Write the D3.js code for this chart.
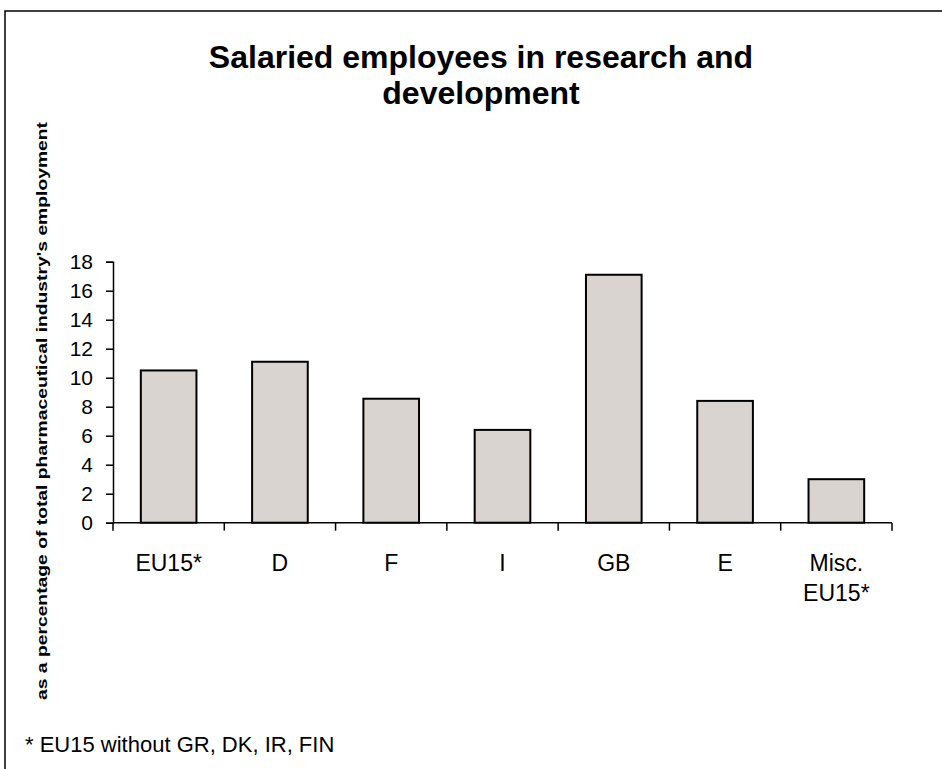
<!DOCTYPE html>
<html>
<head>
<meta charset="utf-8">
<script src="https://cdn.jsdelivr.net/npm/d3@7"></script>
<style>
  html, body { margin: 0; padding: 0; background: #fff; }
  svg { display: block; }
  text { font-family: "Liberation Sans", Arial, sans-serif; fill: #000; }
</style>
</head>
<body>
<svg id="chart" width="942" height="769"></svg>
<script>
// Share of R&D salaried employees in total pharmaceutical employment (%)
const categories = ["EU15*", "D", "F", "I", "GB", "E", "Misc.\nEU15*"];
const values = [10.5, 11.1, 8.55, 6.4, 17.1, 8.4, 3.0];
const yTicks = [0, 2, 4, 6, 8, 10, 12, 14, 16, 18];
const titleLines = ["Salaried employees in research and", "development"];
const yLabel = "as a percentage of total pharmaceutical industry's employment";
const footnote = "* EU15 without GR, DK, IR, FIN";

const svg = d3.select("#chart");
const W = 942, H = 769;
const plot = { left: 113, right: 892, top: 261.7, bottom: 522.7 };

// outer frame
svg.append("rect")
  .attr("x", 5).attr("y", 11)
  .attr("width", W).attr("height", H)
  .attr("fill", "#fff").attr("stroke", "#000").attr("stroke-width", 1.5);

// title
svg.append("text")
  .attr("x", 481).attr("y", 68)
  .attr("text-anchor", "middle")
  .style("font-size", "32px").style("font-weight", "bold")
  .selectAll("tspan").data(titleLines).join("tspan")
  .attr("x", 481).attr("dy", (d, i) => i === 0 ? 0 : 36)
  .text(d => d);

const x = d3.scaleBand()
  .domain(categories)
  .range([plot.left, plot.right])
  .paddingInner(0.5)
  .paddingOuter(0.25);

const y = d3.scaleLinear()
  .domain([0, 18])
  .range([plot.bottom, plot.top]);

// bars
svg.append("g").selectAll("rect").data(values).join("rect")
  .attr("x", (d, i) => x(categories[i]))
  .attr("y", d => y(d))
  .attr("width", x.bandwidth())
  .attr("height", d => y(0) - y(d))
  .attr("fill", "#d9d4d0")
  .attr("stroke", "#000")
  .attr("stroke-width", 2);

// y axis
const yAxis = d3.axisLeft(y).tickValues(yTicks).tickSize(7).tickPadding(13);
const gy = svg.append("g").attr("transform", `translate(${plot.left},0)`).call(yAxis);
gy.select(".domain").attr("stroke", "#000").attr("stroke-width", 1.5);
gy.selectAll(".tick line").attr("stroke", "#000").attr("stroke-width", 1.5);
gy.selectAll(".tick text")
  .style("font-size", "21px")
  .style("font-family", "'Liberation Sans', Arial, sans-serif")
  .attr("fill", "#000");

// x axis: baseline with ticks at category boundaries
const step = x.step();
const boundaries = d3.range(categories.length + 1).map(i => plot.left + i * step);
const gx = svg.append("g");
gx.append("line")
  .attr("x1", plot.left).attr("x2", plot.right)
  .attr("y1", y(0)).attr("y2", y(0))
  .attr("stroke", "#000").attr("stroke-width", 1.5);
gx.selectAll("line.tk").data(boundaries).join("line")
  .attr("class", "tk")
  .attr("x1", d => d).attr("x2", d => d)
  .attr("y1", y(0)).attr("y2", y(0) + 8)
  .attr("stroke", "#000").attr("stroke-width", 1.5);

// category labels
const lab = svg.append("g").selectAll("text").data(categories).join("text")
  .attr("text-anchor", "middle")
  .attr("y", 571)
  .style("font-size", "23px");
lab.selectAll("tspan").data(d => d.split("\n")).join("tspan")
  .attr("x", function () { const c = d3.select(this.parentNode).datum(); return x(c) + x.bandwidth() / 2; })
  .attr("dy", (d, i) => i === 0 ? 0 : 30)
  .text(d => d);

// y axis title
svg.append("text")
  .attr("transform", "translate(47,411) rotate(-90)")
  .attr("text-anchor", "middle")
  .attr("textLength", 578)
  .attr("lengthAdjust", "spacingAndGlyphs")
  .style("font-size", "14px").style("font-weight", "bold")
  .text(yLabel);

// footnote
svg.append("text")
  .attr("x", 25).attr("y", 752)
  .style("font-size", "22px")
  .text(footnote);
</script>
</body>
</html>
